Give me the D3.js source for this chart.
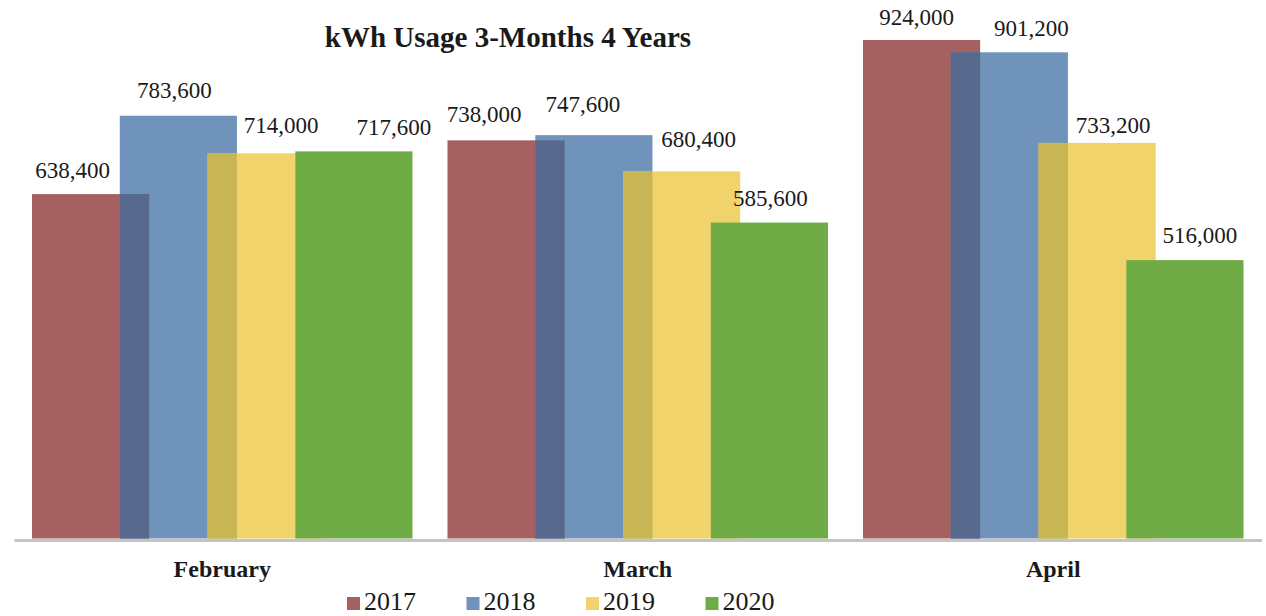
<!DOCTYPE html>
<html>
<head>
<meta charset="utf-8">
<script src="https://cdn.jsdelivr.net/npm/d3@7"></script>
<style>
  html, body { margin: 0; padding: 0; background: #fff; }
  svg { display: block; }
</style>
</head>
<body>
<svg id="chart" width="1266" height="616"></svg>
<script>
// ---- data ----
const months = ["February", "March", "April"];
const years = ["2017", "2018", "2019", "2020"];
const values2017 = [638400, 738000, 924000];
const values2018 = [783600, 747600, 901200];
const values2019 = [714000, 680400, 733200];
const values2020 = [717600, 585600, 516000];
const seriesValues = [values2017, values2018, values2019, values2020];
const title = "kWh Usage 3-Months 4 Years";

// ---- styles ----
const colors = ["#A56161", "#6F93BA", "#F0D36B", "#70AC46"];
const overlapColors = [null, "#57698C", "#C8B554", null];
// label nudges (px) per series, per month
const labelDx = [[-18, -22, -5], [-4, -11, 22], [15, 17, 16], [40, 1, 15]];
const labelGap = [[16, 18, 15], [18, 23, 16], [20, 24, 10], [16, 17, 17]];

const svg = d3.select("#chart");
const W = 1266, H = 616;
const baseY = 538.5;

const x0 = d3.scaleBand().domain(months).range([14, 1261.5])
  .paddingInner(0.0842).paddingOuter(0.0433);
const bw = x0.bandwidth();
const barW = bw * 117 / 380;
const x1 = d3.scalePoint().domain(years).range([0, bw - barW]);
const y = d3.scaleLinear().domain([0, 1000000]).range([baseY, baseY - 539.5]);

// title
svg.append("text")
  .attr("x", 508).attr("y", 47)
  .attr("text-anchor", "middle")
  .attr("font-family", "'Liberation Serif', 'Times New Roman', serif")
  .attr("font-weight", "bold")
  .attr("font-size", 29)
  .attr("fill", "#1a1a1a")
  .text(title);

const flat = [];
years.forEach((yr, si) => {
  months.forEach((m, mi) => {
    flat.push({ yr, si, m, mi, v: seriesValues[si][mi] });
  });
});

// bars
svg.append("g").selectAll("rect")
  .data(flat)
  .join("rect")
  .attr("x", d => x0(d.m) + x1(d.yr))
  .attr("y", d => y(d.v))
  .attr("width", barW)
  .attr("height", d => baseY - y(d.v))
  .attr("fill", d => colors[d.si]);

// overlap shading (series i drawn over series i-1)
const overlaps = flat.filter(d => overlapColors[d.si]).map(d => {
  const prevV = seriesValues[d.si - 1][d.mi];
  const xStart = x0(d.m) + x1(d.yr);
  const xEnd = x0(d.m) + x1(years[d.si - 1]) + barW;
  return { xStart, xEnd, v: Math.min(prevV, d.v), c: overlapColors[d.si] };
});
svg.append("g").selectAll("rect")
  .data(overlaps)
  .join("rect")
  .attr("x", d => d.xStart)
  .attr("y", d => y(d.v))
  .attr("width", d => d.xEnd - d.xStart)
  .attr("height", d => baseY - y(d.v))
  .attr("fill", d => d.c);

// value labels
const fmt = d3.format(",");
svg.append("g").selectAll("text")
  .data(flat)
  .join("text")
  .attr("x", d => x0(d.m) + x1(d.yr) + barW / 2 + labelDx[d.si][d.mi])
  .attr("y", d => y(d.v) - labelGap[d.si][d.mi])
  .attr("text-anchor", "middle")
  .attr("font-family", "'Liberation Serif', 'Times New Roman', serif")
  .attr("font-size", 23)
  .attr("fill", "#1a1a1a")
  .text(d => fmt(d.v));

// x axis
const axis = svg.append("g")
  .attr("transform", `translate(0,${baseY + 1.5})`)
  .call(d3.axisBottom(x0).tickSize(0).tickPadding(0));
axis.select(".domain").attr("stroke", "#c4c4c4").attr("stroke-width", 3);
axis.selectAll("text")
  .attr("y", 37).attr("dy", 0)
  .attr("font-family", "'Liberation Serif', 'Times New Roman', serif")
  .attr("font-weight", "bold")
  .attr("font-size", 24)
  .attr("fill", "#1a1a1a");

// legend
const legend = svg.append("g").selectAll("g")
  .data(years)
  .join("g")
  .attr("transform", (d, i) => `translate(${347 + i * 119.5},0)`);
legend.append("rect")
  .attr("x", 0).attr("y", 597)
  .attr("width", 13).attr("height", 13)
  .attr("fill", (d, i) => colors[i]);
legend.append("text")
  .attr("x", 17).attr("y", 610)
  .attr("font-family", "'Liberation Serif', 'Times New Roman', serif")
  .attr("font-size", 26)
  .attr("fill", "#1a1a1a")
  .text(d => d);
</script>
</body>
</html>
